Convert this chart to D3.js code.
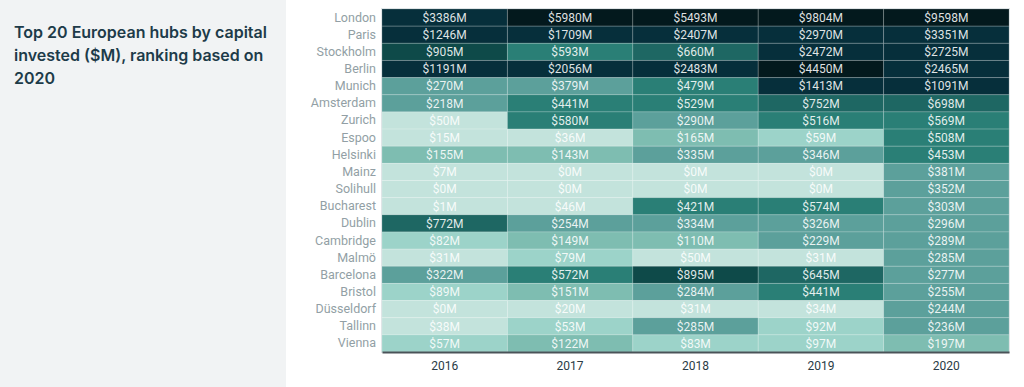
<!DOCTYPE html>
<html>
<head>
<meta charset="utf-8">
<script src="https://cdn.jsdelivr.net/npm/d3@7"></script>
<style>
  body { margin: 0; background: #fff; }
  svg { display: block; }
</style>
</head>
<body>
<div id="chart"></div>
<script>
// data
const cities = ["London", "Paris", "Stockholm", "Berlin", "Munich", "Amsterdam", "Zurich", "Espoo",
    "Helsinki", "Mainz", "Solihull", "Bucharest", "Dublin", "Cambridge", "Malmö", "Barcelona",
    "Bristol", "Düsseldorf", "Tallinn", "Vienna"];
const years = ["2016", "2017", "2018", "2019", "2020"];
const v2016 = [3386, 1246, 905, 1191, 270, 218, 50, 15, 155, 7, 0, 1, 772, 82, 31, 322, 89, 0, 38, 57];
const v2017 = [5980, 1709, 593, 2056, 379, 441, 580, 36, 143, 0, 0, 46, 254, 149, 79, 572, 151, 20, 53, 122];
const v2018 = [5493, 2407, 660, 2483, 479, 529, 290, 165, 335, 0, 0, 421, 334, 110, 50, 895, 284, 31, 285, 83];
const v2019 = [9804, 2970, 2472, 4450, 1413, 752, 516, 59, 346, 0, 0, 574, 326, 229, 31, 645, 441, 34, 92, 97];
const v2020 = [9598, 3351, 2725, 2465, 1091, 698, 569, 508, 453, 381, 352, 303, 296, 289, 285, 277, 255, 244, 236, 197];
const title = ["Top 20 European hubs by capital", "invested ($M), ranking based on", "2020"];

const byYear = [v2016, v2017, v2018, v2019, v2020];
const cells = [];
years.forEach((y, j) => {
    cities.forEach((c, i) => cells.push({city: c, year: y, value: byYear[j][i]}));
});

const W = 1024, H = 387;
const margin = {top: 9, right: 15, bottom: 35, left: 382};
const width = W - margin.left - margin.right;
const height = H - margin.top - margin.bottom;

const svg = d3.select('#chart').append('svg')
    .attr('width', W)
    .attr('height', H);

// left grey panel with title
svg.append('rect')
    .attr('width', 286)
    .attr('height', H)
    .attr('fill', '#f1f3f4');

svg.append('text')
    .attr('x', 14)
    .attr('y', 38)
    .attr('fill', '#1d3b49')
    .style('font-family', 'Inter, "Noto Sans", sans-serif')
    .style('font-weight', 600)
    .style('font-size', '16px')
    .selectAll('tspan')
    .data(title)
    .enter().append('tspan')
    .attr('x', 14)
    .attr('dy', (d, i) => i === 0 ? 0 : 23)
    .text(d => d);

const chart = svg.append('g')
    .attr('transform', `translate(${margin.left},${margin.top})`);

const xScale = d3.scaleBand()
    .domain(years)
    .range([0, width]);

const yScale = d3.scaleBand()
    .domain(cities)
    .range([0, height]);

const colorScale = d3.scaleThreshold()
    .domain([51, 100, 200, 400, 640, 800, 1000, 4000])
    .range(['#c3e3dc', '#9cd3c9', '#7ebdb1', '#5ca09b', '#2a7f76', '#1e6763', '#0e4a49', '#062f3b', '#03191d']);

chart.append('rect')
    .attr('x', -0.5)
    .attr('y', -0.5)
    .attr('width', width + 1)
    .attr('height', height + 1)
    .attr('fill', 'none')
    .attr('stroke', '#dde3e5');

chart.selectAll('.cell')
    .data(cells)
    .enter().append('rect')
    .attr('class', 'cell')
    .attr('x', d => xScale(d.year))
    .attr('y', d => yScale(d.city))
    .attr('width', xScale.bandwidth())
    .attr('height', yScale.bandwidth())
    .attr('fill', d => colorScale(d.value))
    .attr('stroke', 'rgba(255,255,255,0.18)')
    .attr('stroke-width', 1);

chart.selectAll('.label')
    .data(cells)
    .enter().append('text')
    .attr('class', 'label')
    .attr('x', d => xScale(d.year) + xScale.bandwidth() / 2)
    .attr('y', d => yScale(d.city) + yScale.bandwidth() / 2)
    .attr('dy', '0.36em')
    .attr('text-anchor', 'middle')
    .attr('fill', '#ffffff')
    .attr('fill-opacity', 0.88)
    .style('font-family', 'Roboto, sans-serif')
    .style('font-size', '12px')
    .text(d => `$${d.value}M`);

// city names
const yAxis = d3.axisLeft(yScale).tickSize(0).tickPadding(6);
chart.append('g')
    .attr('class', 'y axis')
    .call(yAxis)
    .call(g => g.select('.domain').remove())
    .selectAll('text')
    .attr('fill', '#929fa5')
    .style('font-family', 'Roboto, sans-serif')
    .style('font-size', '12.5px');

// years
const xAxis = d3.axisBottom(xScale).tickSize(0).tickPadding(9);
chart.append('g')
    .attr('class', 'x axis')
    .attr('transform', `translate(0,${height})`)
    .call(xAxis)
    .call(g => g.select('.domain').attr('stroke', '#4a5358').attr('stroke-width', 2))
    .selectAll('text')
    .attr('fill', '#2a3b45')
    .style('font-family', 'Roboto, sans-serif')
    .style('font-size', '12px');
</script>
</body>
</html>
